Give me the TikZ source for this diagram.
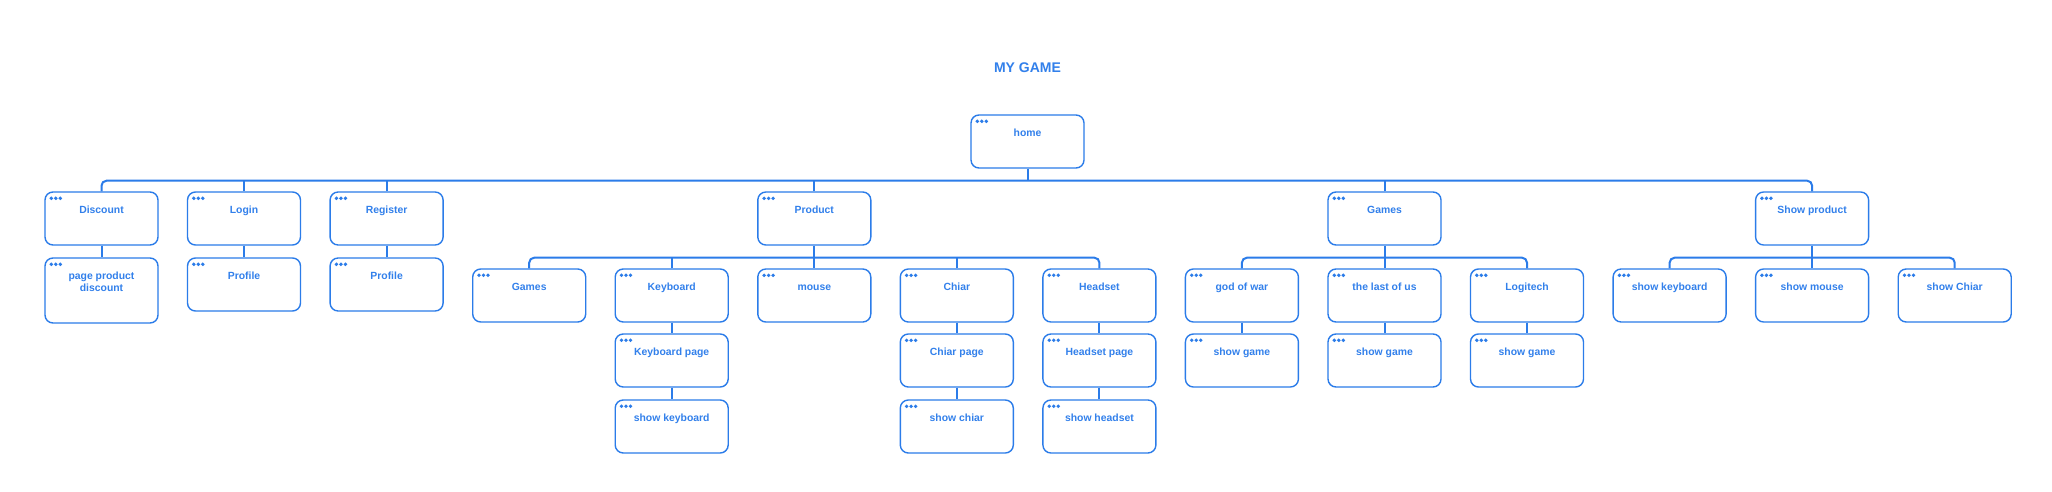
\documentclass[tikz,border=0pt]{standalone}
\usepackage{fontspec}
\setmainfont{Liberation Sans}
\usetikzlibrary{calc}
\definecolor{blu}{RGB}{43,124,233}
\definecolor{blutext}{RGB}{50,128,235}
\tikzset{
  box/.style={draw=blu, line width=1.4pt, rounded corners=8pt, minimum width=113pt, inner sep=0pt, fill=white},
  conn/.style={draw=blu, line width=2pt},
  lab/.style={text=blutext, font=\fontsize{10.4}{12.5}\selectfont\bfseries, anchor=base, inner sep=0pt},
  ttl/.style={text=blutext, font=\fontsize{14}{16}\selectfont\bfseries, anchor=base, inner sep=0pt}
}
\newcommand\mybox[5]{%
  \node[box, minimum height=#4] (#1) at (#2, #3+#4/2) {};
  \fill[blu] ([shift={(7,7)}]#1.north west) circle (1.9)
             ([shift={(11.5,7)}]#1.north west) circle (1.9)
             ([shift={(16,7)}]#1.north west) circle (1.9);
  \node[lab] (#1-t) at ([shift={(0,22)}]#1.north) {#5};
}
\begin{document}
\begin{tikzpicture}[x=1pt,y=-1pt]
\fill[white] (0,0) rectangle (2052,492);
\useasboundingbox (0,0) rectangle (2052,492);
\node[ttl] (title) at (1027.5,73) {MY GAME};
% row 0
\mybox{home}{1027.5}{115}{53}{home}
% row 1
\mybox{disc}{101.5}{192}{53}{Discount}
\mybox{login}{244}{192}{53}{Login}
\mybox{reg}{386.6}{192}{53}{Register}
\mybox{prod}{814.3}{192}{53}{Product}
\mybox{games}{1384.5}{192}{53}{Games}
\mybox{showp}{1812.1}{192}{53}{Show product}
% row 1b
\mybox{ppd}{101.5}{258}{65}{\parbox[t]{110pt}{\centering page product\\discount}}
\mybox{prof1}{244}{258}{53}{Profile}
\mybox{prof2}{386.6}{258}{53}{Profile}
% row 2
\mybox{gm}{529.2}{269}{53}{Games}
\mybox{kb}{671.7}{269}{53}{Keyboard}
\mybox{mouse}{814.3}{269}{53}{mouse}
\mybox{chiar}{956.8}{269}{53}{Chiar}
\mybox{head}{1099.4}{269}{53}{Headset}
\mybox{gow}{1241.9}{269}{53}{god of war}
\mybox{tlou}{1384.5}{269}{53}{the last of us}
\mybox{logi}{1527}{269}{53}{Logitech}
\mybox{skb}{1669.6}{269}{53}{show keyboard}
\mybox{smouse}{1812.1}{269}{53}{show mouse}
\mybox{schiar}{1954.7}{269}{53}{show Chiar}
% row 3
\mybox{kbp}{671.7}{334}{53}{Keyboard page}
\mybox{chp}{956.8}{334}{53}{Chiar page}
\mybox{hsp}{1099.4}{334}{53}{Headset page}
\mybox{sg1}{1241.9}{334}{53}{show game}
\mybox{sg2}{1384.5}{334}{53}{show game}
\mybox{sg3}{1527}{334}{53}{show game}
% row 4
\mybox{skb2}{671.7}{400}{53}{show keyboard}
\mybox{sch}{956.8}{400}{53}{show chiar}
\mybox{shs}{1099.4}{400}{53}{show headset}
% connectors: top bus
\coordinate (b0) at ($(home.south)+(0,12)$);
\draw[conn, rounded corners=5pt] (disc.north) |- (b0) -| (showp.north);
\draw[conn] (home.south) -- (b0);
\foreach \n in {login,reg,prod,games} \draw[conn] (\n.north) -- (\n.north |- b0);
% product bus
\coordinate (b1) at ($(prod.south)+(0,12)$);
\draw[conn, rounded corners=5pt] (gm.north) |- (b1) -| (head.north);
\draw[conn] (prod.south) -- (mouse.north);
\foreach \n in {kb,chiar} \draw[conn] (\n.north) -- (\n.north |- b1);
% games bus
\coordinate (b2) at ($(games.south)+(0,12)$);
\draw[conn, rounded corners=5pt] (gow.north) |- (b2) -| (logi.north);
\draw[conn] (games.south) -- (tlou.north);
% show product bus
\coordinate (b3) at ($(showp.south)+(0,12)$);
\draw[conn, rounded corners=5pt] (skb.north) |- (b3) -| (schiar.north);
\draw[conn] (showp.south) -- (smouse.north);
% vertical chains
\draw[conn] (disc.south) -- (ppd.north);
\draw[conn] (login.south) -- (prof1.north);
\draw[conn] (reg.south) -- (prof2.north);
\draw[conn] (kb.south) -- (kbp.north);
\draw[conn] (kbp.south) -- (skb2.north);
\draw[conn] (chiar.south) -- (chp.north);
\draw[conn] (chp.south) -- (sch.north);
\draw[conn] (head.south) -- (hsp.north);
\draw[conn] (hsp.south) -- (shs.north);
\draw[conn] (gow.south) -- (sg1.north);
\draw[conn] (tlou.south) -- (sg2.north);
\draw[conn] (logi.south) -- (sg3.north);
\end{tikzpicture}
\end{document}
